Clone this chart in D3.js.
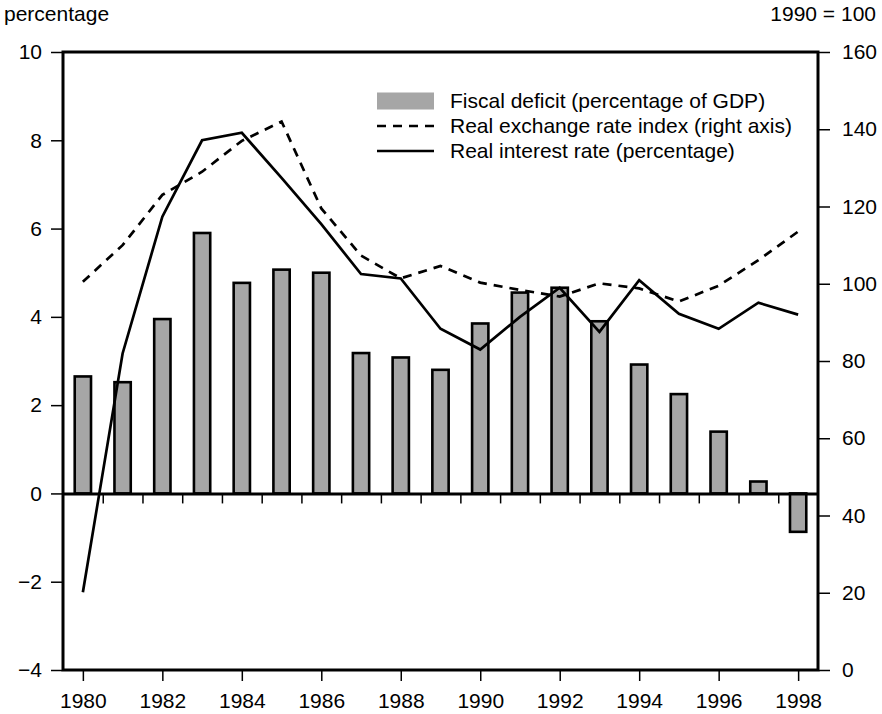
<!DOCTYPE html>
<html>
<head>
<meta charset="utf-8">
<script src="https://cdn.jsdelivr.net/npm/d3@7"></script>
<style>
  html, body { margin: 0; padding: 0; background: #fff; }
  svg { display: block; font-family: "Liberation Sans", Arial, Helvetica, sans-serif; }
</style>
</head>
<body>
<svg id="chart" width="882" height="714"></svg>
<script>
// ---- data ----
const years = [1980,1981,1982,1983,1984,1985,1986,1987,1988,1989,1990,1991,1992,1993,1994,1995,1996,1997,1998];
const fiscalDeficit = [2.65,2.52,3.95,5.9,4.77,5.07,5.0,3.18,3.08,2.8,3.85,4.55,4.66,3.9,2.92,2.25,1.4,0.27,-0.87];
const realExchangeRate = [100.5,110,123,129,137,142,119.5,107.3,101.4,104.6,100.3,98.4,96.7,100.1,98.8,95.4,99.5,106.1,113.5];
const realInterestRate = [-2.24,3.17,6.27,8.0,8.17,7.15,6.1,4.97,4.87,3.73,3.26,4.0,4.66,3.66,4.83,4.07,3.73,4.32,4.05];
const leftTicks = [-4,-2,0,2,4,6,8,10];
const rightTicks = [0,20,40,60,80,100,120,140,160];
const bottomTicks = [1980,1982,1984,1986,1988,1990,1992,1994,1996,1998];
const legendItems = ["Fiscal deficit (percentage of GDP)", "Real exchange rate index (right axis)", "Real interest rate (percentage)"];
const leftTitle = "percentage";
const rightTitle = "1990 = 100";

// ---- layout ----
const L = 63, R = 818, T = 52, B = 670;
const FS = 21;
const svg = d3.select("#chart");

const x = d3.scaleBand().domain(years).range([L, R]).paddingInner(0).paddingOuter(0);
const xLin = d3.scaleLinear().domain([years[0] - 0.5, years[years.length - 1] + 0.5]).range([L, R]);
const yL = d3.scaleLinear().domain([-4, 10]).range([B, T]);
const yR = d3.scaleLinear().domain([0, 160]).range([B, T]);
const cx = d => x(d) + x.bandwidth() / 2;

// bars
const bw = x.bandwidth() * 0.41;
svg.append("g").selectAll("rect").data(years).join("rect")
  .attr("x", (d) => cx(d) - bw / 2)
  .attr("y", (d, i) => yL(Math.max(0, fiscalDeficit[i])))
  .attr("width", bw)
  .attr("height", (d, i) => Math.abs(yL(fiscalDeficit[i]) - yL(0)))
  .attr("fill", "#a6a6a6")
  .attr("stroke", "#000")
  .attr("stroke-width", 2.6);

// zero line with inter-band ticks
const zeroAxis = d3.axisBottom(xLin)
  .tickValues(years.slice(0, -1).map(y => y + 0.5))
  .tickFormat("")
  .tickSize(10)
  .tickSizeOuter(0);
const zg = svg.append("g").attr("transform", `translate(0,${yL(0)})`).call(zeroAxis);
zg.select(".domain").attr("stroke-width", 3);
zg.selectAll(".tick line").attr("stroke-width", 1.5);

// lines
const lineR = d3.line().x((d, i) => cx(years[i])).y(d => yR(d));
const lineL = d3.line().x((d, i) => cx(years[i])).y(d => yL(d));
svg.append("path").datum(realExchangeRate).attr("d", lineR)
  .attr("fill", "none").attr("stroke", "#000").attr("stroke-width", 2.7)
  .attr("stroke-dasharray", "9,7");
svg.append("path").datum(realInterestRate).attr("d", lineL)
  .attr("fill", "none").attr("stroke", "#000").attr("stroke-width", 2.7)
  .attr("stroke-linejoin", "miter");

// frame
svg.append("rect").attr("x", L).attr("y", T).attr("width", R - L).attr("height", B - T)
  .attr("fill", "none").attr("stroke", "#000").attr("stroke-width", 3);

// axes
function styleAxis(g) {
  g.select(".domain").remove();
  g.selectAll(".tick line").attr("stroke-width", 1.5);
  g.selectAll(".tick text").attr("font-size", FS).attr("fill", "#000")
    .attr("font-family", '"Liberation Sans", Arial, Helvetica, sans-serif');
}
svg.append("g").attr("transform", `translate(${L - 1},0)`)
  .call(d3.axisLeft(yL).tickValues(leftTicks).tickSize(11).tickPadding(9)).call(styleAxis);
svg.append("g").attr("transform", `translate(${R + 1},0)`)
  .call(d3.axisRight(yR).tickValues(rightTicks).tickSize(11).tickPadding(12)).call(styleAxis);
svg.append("g").attr("transform", `translate(0,${B + 1})`)
  .call(d3.axisBottom(xLin).tickValues(bottomTicks).tickFormat(d3.format("d")).tickSize(10).tickPadding(12))
  .call(styleAxis);

// axis titles
svg.append("text").attr("x", 4).attr("y", 21).attr("font-size", FS).text(leftTitle);
svg.append("text").attr("x", 876).attr("y", 21).attr("font-size", FS).attr("text-anchor", "end").text(rightTitle);

// legend
const lx = 377, lw = 57, tx = 450;
const rowY = [101, 126, 151];
svg.append("rect").attr("x", lx).attr("y", rowY[0] - 8.5).attr("width", lw).attr("height", 17).attr("fill", "#a6a6a6");
svg.append("line").attr("x1", lx).attr("x2", lx + lw).attr("y1", rowY[1]).attr("y2", rowY[1])
  .attr("stroke", "#000").attr("stroke-width", 2.7).attr("stroke-dasharray", "9,7");
svg.append("line").attr("x1", lx).attr("x2", lx + lw).attr("y1", rowY[2]).attr("y2", rowY[2])
  .attr("stroke", "#000").attr("stroke-width", 2.7);
svg.append("g").selectAll("text").data(legendItems).join("text")
  .attr("x", tx).attr("y", (d, i) => rowY[i]).attr("dy", "0.35em")
  .attr("font-size", FS).text(d => d);
</script>
</body>
</html>
